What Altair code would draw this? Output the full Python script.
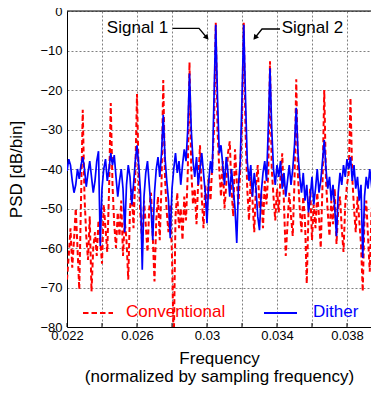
import altair as alt
import pandas as pd

# ---------------- data ----------------
freq_start = 0.022
freq_step = 0.0001

conventional = [
    -68, -62, -55, -65, -58, -50, -60, -70.5, -48, -25,
    -47, -57, -63, -52, -71, -60, -56, -62, -53, -58,
    -64, -49, -55, -61, -46, -23.3, -44, -54, -60, -51,
    -57, -48, -62, -53, -58, -68, -50, -45, -55, -42,
    -21, -43, -52, -59, -48, -54, -61, -50, -46, -57,
    -68.5, -53, -47, -58, -44, -17.5, -42, -51, -56, -49,
    -62, -85, -52, -46, -55, -50, -58, -47, -53, -41,
    -13, -40, -49, -45, -54, -43, -34, -47, -55, -44,
    -50, -42, -48, -39, -30, -3.0, -30, -40, -47, -38,
    -50, -44, -36, -33, -45, -52, -35, -43, -49, -40,
    -28, -3.0, -30, -45, -53, -42, -48, -56, -44, -39,
    -50, -46, -55, -43, -49, -41, -12.7, -40, -47, -53,
    -45, -51, -42, -36, -49, -62, -54, -46, -52, -57,
    -43, -17.3, -42, -50, -56, -47, -53, -69, -51, -45,
    -58, -49, -55, -46, -52, -60, -44, -20, -43, -51,
    -57, -48, -54, -45, -59, -50, -47, -55, -61, -49,
    -44, -41, -22, -42, -50, -56, -47, -53, -59, -71,
    -52, -48, -57, -66, -51, -46, -55, -45, -24,
]

dither = [
    -40.5, -37.5, -39, -43, -46, -44, -40, -42.5, -39, -37,
    -40, -44.5, -41, -38, -42, -46, -43, -38, -35.5, -59.5,
    -45, -40, -37.5, -43, -40, -36, -39, -36.5, -42, -47,
    -43, -40, -45, -56, -44, -39, -42, -49, -44, -38,
    -34, -39, -46, -65.5, -47, -41, -38, -44, -50, -58,
    -46, -40, -37, -42, -36, -26.3, -37, -43, -48, -57.5,
    -45, -40, -36, -41, -38, -44, -39, -35, -38, -30,
    -15.8, -30, -38, -42, -37, -44, -40, -36, -41, -46,
    -53.7, -43, -38, -41, -22, -3.5, -22, -36, -34, -39,
    -44, -37, -41, -47, -40, -45, -50, -58.7, -44, -38,
    -22, -3.5, -22, -38, -43, -39, -47, -41, -45, -52,
    -55.5, -46, -41, -38, -43, -30, -14.5, -30, -40, -44,
    -39, -42, -38, -45, -41, -47, -43, -39, -44, -40,
    -34, -24.5, -36, -42, -46, -41, -48, -44, -51, -47,
    -42, -49, -45, -40, -46, -43, -38, -32.7, -40, -45,
    -42, -48, -44, -50, -57, -46, -41, -44, -39, -42,
    -37.5, -40, -37, -43, -39, -45, -42, -48, -44, -62.5,
    -47, -42, -45, -40, -44, -49, -43, -46, -41,
]

freq = [round(freq_start + i * freq_step, 5) for i in range(len(conventional))]

x_grid_values = [0.022, 0.024, 0.026, 0.028, 0.030, 0.032, 0.034, 0.036, 0.038]
y_grid_values = [-80, -70, -60, -50, -40, -30, -20, -10, 0]

series_names = ["Conventional", "Dither"]
signal_labels = ["Signal 1", "Signal 2"]

# ---------------- styling ----------------
FONT = "Liberation Sans"
RED = "#ff0000"
BLUE = "#0000ff"
PLOT_W = 304
X_DOMAIN = [0.022, 0.022 + PLOT_W / 17500]
Y_DOMAIN = [-80, 0]

xs = alt.Scale(domain=X_DOMAIN, nice=False, zero=False)
ys = alt.Scale(domain=Y_DOMAIN, nice=False, zero=False)

df = pd.DataFrame({"f": freq, "conv": conventional, "dith": dither})

x_axis = alt.Axis(
    values=x_grid_values,
    format=".3~f",
    labelExpr="round(datum.value * 1000) % 4 == 2 ? datum.label : ''",
    labelOverlap=False,
    labelFlush=False,
    grid=True,
    gridDash=[2, 2],
    gridColor="#808080",
    gridWidth=1,
    ticks=False,
    tickSize=0,
    domain=True,
    domainColor="black",
    domainWidth=1,
    labelFont=FONT,
    labelFontSize=13,
    labelColor="black",
    labelPadding=2,
    title=["Frequency", "(normalized by sampling frequency)"],
    titleFont=FONT,
    titleFontSize=17,
    titleFontWeight="normal",
    titleColor="black",
    titlePadding=8,
    titleLineHeight=18,
)

y_axis = alt.Axis(
    values=y_grid_values,
    format="d",
    labelOverlap=False,
    labelFlush=False,
    grid=True,
    gridDash=[2, 2],
    gridColor="#808080",
    gridWidth=1,
    ticks=False,
    tickSize=0,
    domain=True,
    domainColor="black",
    domainWidth=1,
    labelFont=FONT,
    labelFontSize=13,
    labelColor="black",
    labelPadding=5,
    title="PSD [dB/bin]",
    titleFont=FONT,
    titleFontSize=17,
    titleFontWeight="normal",
    titleColor="black",
    titlePadding=14,
)


def X(field):
    return alt.X(field, scale=xs, axis=x_axis)


def Y(field):
    return alt.Y(field, scale=ys, axis=y_axis)


red_line = alt.Chart(df).mark_line(
    color=RED, strokeWidth=2, strokeDash=[5, 3], clip=True
).encode(x=X("f:Q"), y=Y("conv:Q"))

blue_line = alt.Chart(df).mark_line(
    color=BLUE, strokeWidth=1.7, clip=True
).encode(x=X("f:Q"), y=Y("dith:Q"))

# top frame line
top_df = pd.DataFrame({"v": [0]})
top_rule = alt.Chart(top_df).mark_rule(color="black", strokeWidth=1).encode(
    y=Y("v:Q")
)

# inward ticks on the bottom axis
tick_df = pd.DataFrame({"x": x_grid_values, "y": [-80] * len(x_grid_values),
                        "y2": [-79] * len(x_grid_values)})
bottom_ticks = alt.Chart(tick_df).mark_rule(color="black", strokeWidth=1).encode(
    x=X("x:Q"), y=Y("y:Q"), y2="y2:Q"
)

# legend (drawn inside plot)
leg_line_df = pd.DataFrame({
    "x": [0.022914, 0.033257], "x2": [0.024629, 0.035143],
    "y": [-76.46, -76.46], "s": series_names,
})
leg_red = alt.Chart(leg_line_df[leg_line_df.s == "Conventional"]).mark_rule(
    color=RED, strokeWidth=2, strokeDash=[5.5, 3]
).encode(x=X("x:Q"), x2="x2:Q", y=Y("y:Q"))
leg_blue = alt.Chart(leg_line_df[leg_line_df.s == "Dither"]).mark_rule(
    color=BLUE, strokeWidth=2
).encode(x=X("x:Q"), x2="x2:Q", y=Y("y:Q"))

leg_text_df = pd.DataFrame({
    "x": [0.025371, 0.036057], "y": [-77.54, -77.54], "t": series_names,
    "c": [RED, BLUE],
})
leg_text = alt.Chart(leg_text_df).mark_text(
    align="left", baseline="alphabetic", font=FONT, fontSize=17
).encode(
    x=X("x:Q"), y=Y("y:Q"), text="t:N",
    color=alt.Color("c:N", scale=None),
)

# signal annotations
sig_text_df = pd.DataFrame({
    "x": [0.027789, 0.034269], "y": [-5.65, -5.65], "t": signal_labels,
})
sig_text_1 = alt.Chart(sig_text_df.iloc[[0]]).mark_text(
    align="right", baseline="alphabetic", font=FONT, fontSize=17, color="black"
).encode(x=X("x:Q"), y=Y("y:Q"), text="t:N")
sig_text_2 = alt.Chart(sig_text_df.iloc[[1]]).mark_text(
    align="left", baseline="alphabetic", font=FONT, fontSize=17, color="black"
).encode(x=X("x:Q"), y=Y("y:Q"), text="t:N")

arrow_df = pd.DataFrame({
    "x": [0.028040, 0.029543, 0.029960, 0.034171, 0.033143, 0.032777],
    "y": [-4.38, -4.38, -6.58, -4.56, -4.56, -6.58],
    "k": [0, 1, 2, 0, 1, 2],
    "g": ["a", "a", "a", "b", "b", "b"],
})
arrow_lines = alt.Chart(arrow_df).mark_line(color="black", strokeWidth=1.3).encode(
    x=X("x:Q"), y=Y("y:Q"), detail="g:N", order="k:Q",
)
head_df = pd.DataFrame({
    "x": [0.029960, 0.032777], "y": [-6.58, -6.58], "ang": [140, 217.6],
})
arrow_heads = alt.Chart(head_df).mark_point(
    shape="triangle", filled=True, color="black", size=36, opacity=1
).encode(
    x=X("x:Q"), y=Y("y:Q"), angle=alt.Angle("ang:Q", scale=None),
)

chart = alt.layer(
    red_line, blue_line, top_rule, bottom_ticks,
    leg_red, leg_blue, leg_text,
    sig_text_1, sig_text_2, arrow_lines, arrow_heads,
).properties(
    width=PLOT_W, height=316,
    autosize=alt.AutoSizeParams(type="none"),
    padding={"left": 59, "top": 3, "right": 0, "bottom": 59},
).configure_view(stroke=None).configure(background="white")

chart.save("out.html", embed_options={"renderer": "svg", "actions": False})
